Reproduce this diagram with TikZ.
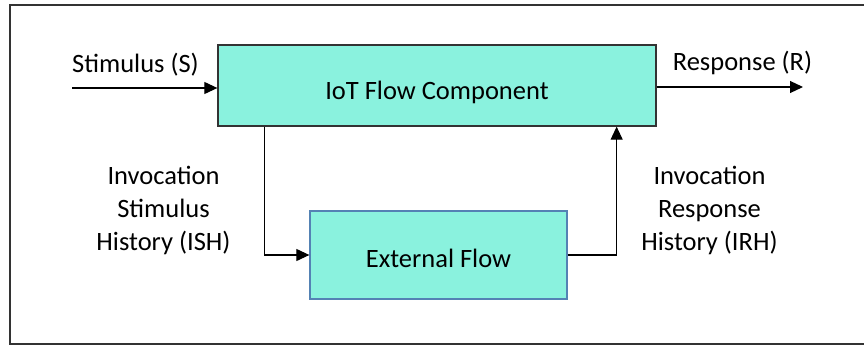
\documentclass[tikz,border=0pt]{standalone}
\usepackage{fontspec}
\setmainfont{Carlito}
\usetikzlibrary{arrows.meta}
\definecolor{flowfill}{RGB}{138,242,222}
\definecolor{extedge}{RGB}{84,130,180}

\begin{document}
\begin{tikzpicture}[x=1pt,y=-1pt,font=\fontsize{26.5}{33}\selectfont,
   flowbox/.style={draw=black!80,fill=flowfill,line width=1.3pt,inner sep=0pt,text depth=0pt},
   flowarrow/.style={-{Triangle[length=13pt,width=12pt]},line width=1.1pt}]
   \useasboundingbox (0,0) rectangle (864,348);
   \draw[black!80,line width=1.6pt] (10,5) rectangle (880,344);
   \node[flowbox,minimum width=438pt,minimum height=81pt,text height=28pt] (iot) at (437,85.5) {IoT Flow Component};
   \node[flowbox,draw=extedge,minimum width=257pt,minimum height=88pt,text height=25pt] (ext) at (438.5,255) {External Flow};
   \coordinate (stim) at (72,88);
   \coordinate (resp) at (803,87);
   \draw[flowarrow] (stim) -- (stim -| iot.west);
   \draw[flowarrow] (iot.east |- resp) -- (resp);
   \draw[flowarrow] ([xshift=47pt]iot.south west) |- (ext.west);
   \draw[flowarrow] (ext.east) -| ([xshift=-40pt]iot.south east);
   \node (stimlbl) at (135.5,65) {Stimulus (S)};
   \node (resplbl) at (742.5,63) {Response (R)};
   \node[align=center] (ishlbl) at (163.5,210) {Invocation\\Stimulus\\History (ISH)};
   \node[align=center] (irhlbl) at (709.5,210) {Invocation\\Response\\History (IRH)};
\end{tikzpicture}
\end{document}
